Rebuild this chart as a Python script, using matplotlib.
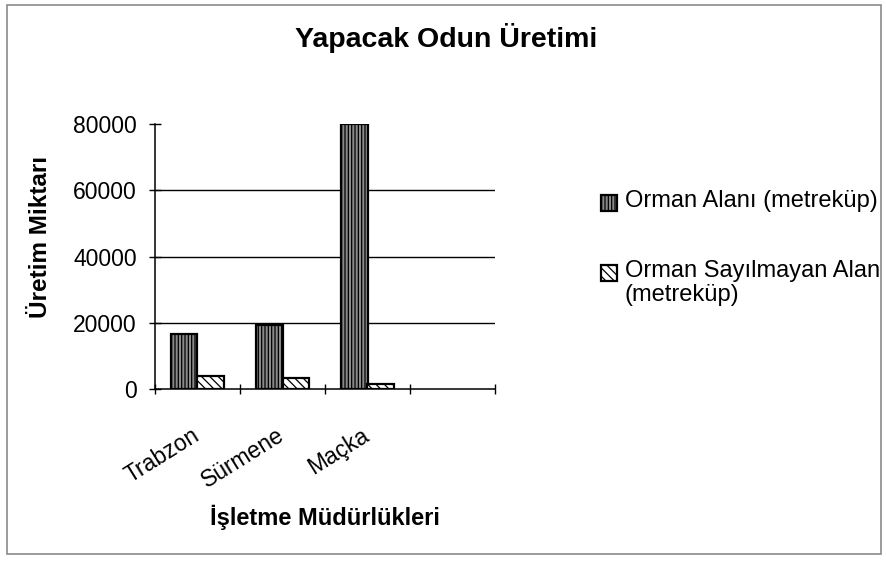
import matplotlib.pyplot as plt
import numpy as np
from matplotlib.patches import Rectangle

plt.rcParams["font.family"] = ["Liberation Sans", "DejaVu Sans"]
plt.rcParams["hatch.linewidth"] = 0.9

# ── Data ──────────────────────────────────────────────────────────────────────
categories = ["Trabzon", "Sürmene", "Maçka"]
orman_alani = [16700, 19400, 80000]
orman_sayilmayan = [3900, 3300, 1600]
series_labels = ["Orman Alanı (metreküp)", "Orman Sayılmayan Alan\n(metreküp)"]
y_ticks = [0, 20000, 40000, 60000, 80000]

W, H = 887, 562
fig = plt.figure(figsize=(W / 100, H / 100), dpi=100)
ax = fig.add_axes([155 / W, 1 - 389 / H, 340 / W, 265 / H])

# outer chart frame
fig.patches.append(Rectangle((7 / W, 1 - 554 / H), 874 / W, 549 / H,
                             transform=fig.transFigure, fill=False,
                             edgecolor="#8a8a8a", linewidth=1.2))

styles = [
    dict(facecolor="#8a8a8a", edgecolor="black", linewidth=1.6, hatch="|||||"),
    dict(facecolor="white", edgecolor="black", linewidth=1.6, hatch="\\\\\\\\"),
]

x = np.arange(len(categories))
w = 0.31
ax.bar(x - w / 2, orman_alani, w, zorder=3, **styles[0])
ax.bar(x + w / 2, orman_sayilmayan, w, zorder=3, **styles[1])

n_slots = len(categories) + 1  # Excel left an empty fourth slot
ax.set_xlim(-0.5, n_slots - 0.5)
ax.set_ylim(0, y_ticks[-1])
ax.set_yticks(y_ticks)
ax.set_yticklabels([str(v) for v in y_ticks], fontsize=16.5)
for v in y_ticks[1:-1]:
    ax.axhline(v, color="black", linewidth=1.0, zorder=1)

ax.set_xticks(x)
ax.set_xticklabels(categories, rotation=32, ha="right", va="center",
                   rotation_mode="anchor", fontsize=16.5)
ax.tick_params(axis="x", length=0, pad=32)
ax.set_xticks(np.arange(n_slots + 1) - 0.5, minor=True)
ax.tick_params(axis="x", which="minor", length=7, width=1, direction="inout")
ax.tick_params(axis="y", length=8, width=1, direction="inout", pad=9)

for side in ["top", "right"]:
    ax.spines[side].set_visible(False)
ax.spines["left"].set_linewidth(1.1)
ax.spines["bottom"].set_linewidth(1.1)

fig.text(41 / W, 1 - 237 / H, "Üretim Miktarı", rotation=90, ha="center",
         va="center", fontsize=17.5, fontweight="bold")
fig.text(325 / W, 1 - 517 / H, "İşletme Müdürlükleri", ha="center",
         va="center", fontsize=17, fontweight="bold")
fig.text(446 / W, 1 - 38 / H, "Yapacak Odun Üretimi", ha="center",
         va="center", fontsize=20.5, fontweight="bold")

# legend, drawn with the same styles as the bars
legend_rows = [203, 273]
for label, style, yc in zip(series_labels, styles, legend_rows):
    fig.patches.append(Rectangle((601 / W, 1 - (yc + 8) / H), 16 / W, 16 / H,
                                 transform=fig.transFigure, **style))
    fig.text(625 / W, 1 - (yc - 13) / H, label, ha="left", va="top",
             fontsize=17, linespacing=1.1)

fig.savefig("out.png", dpi=100)
